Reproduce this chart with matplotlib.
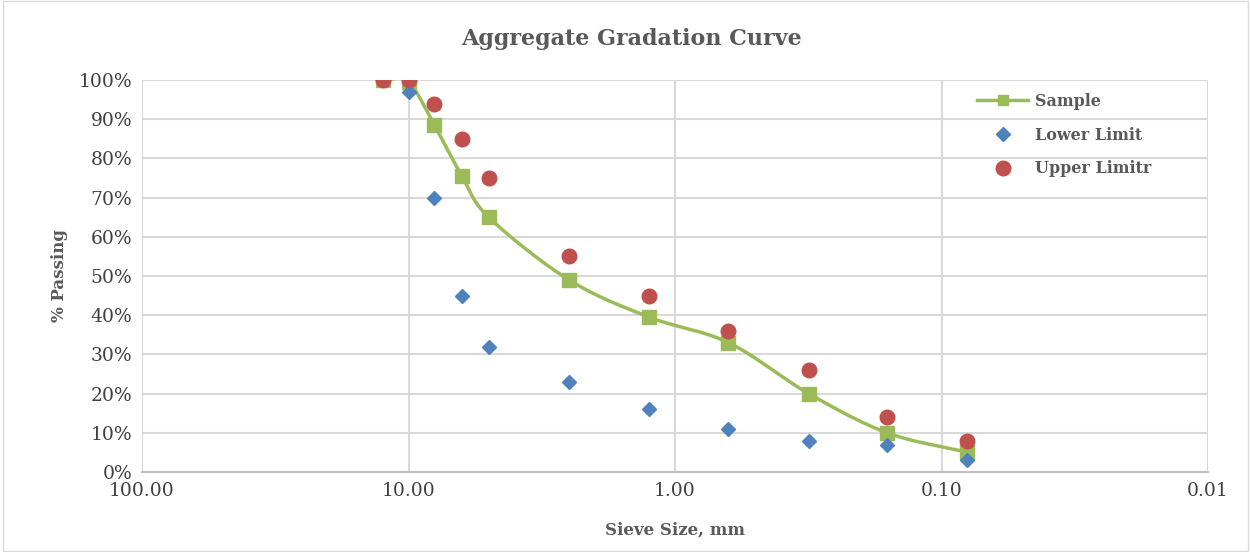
import numpy as np
import matplotlib
matplotlib.use("Agg")
import matplotlib.pyplot as plt
from matplotlib.ticker import FixedLocator, PercentFormatter

# sieve sizes (mm) and % passing
sieve = [12.5, 10, 8, 6.3, 5, 2.5, 1.25, 0.63, 0.315, 0.16, 0.08]
sample = [100, 99.5, 88.5, 75.5, 65, 49, 39.5, 33, 20, 10, 5]
lower = [100, 97, 70, 45, 32, 23, 16, 11, 8, 7, 3]
upper = [100, 100, 94, 85, 75, 55, 45, 36, 26, 14, 8]

GREEN = '#9bbb59'
BLUE = '#4f81bd'
RED = '#c0504d'
GREY = '#595959'


def smooth(xs, ys, n=30):
    # catmull-rom through the points, in log-x space (like excel's smoothed line)
    lx = np.log10(xs)
    ys = np.asarray(ys, float)
    px = np.concatenate([[2*lx[0]-lx[1]], lx, [2*lx[-1]-lx[-2]]])
    py = np.concatenate([[2*ys[0]-ys[1]], ys, [2*ys[-1]-ys[-2]]])
    outx, outy = [], []
    t = np.linspace(0, 1, n)
    for i in range(1, len(px)-2):
        for p, out in ((px, outx), (py, outy)):
            p0, p1, p2, p3 = p[i-1], p[i], p[i+1], p[i+2]
            out.extend(0.5*((2*p1) + (-p0+p2)*t + (2*p0-5*p1+4*p2-p3)*t**2
                            + (-p0+3*p1-3*p2+p3)*t**3))
    return 10**np.array(outx), np.array(outy)


plt.rcParams['font.family'] = ['DejaVu Serif']

fig = plt.figure(figsize=(12.5, 5.52), dpi=100)
ax = fig.add_axes([0.1136, 0.145, 0.8528, 0.71])

sx, sy = smooth(sieve, sample)
ax.plot(sx, sy, color=GREEN, lw=2.5, zorder=3)
ax.plot(sieve, sample, 's', color=GREEN, ms=10, zorder=3)
ax.plot([], [], '-s', color=GREEN, lw=2.5, ms=7, label='Sample')
ax.plot(sieve, lower, 'D', color=BLUE, ms=7, ls='none', zorder=4, label='Lower Limit')
ax.plot(sieve, upper, 'o', color=RED, ms=10.5, ls='none', zorder=5, label='Upper Limitr')

ax.set_xscale('log')
ax.set_xlim(100, 0.01)
ax.set_ylim(0, 100)
ax.xaxis.set_major_locator(FixedLocator([100, 10, 1, 0.1, 0.01]))
ax.xaxis.set_minor_locator(FixedLocator([]))
ax.set_xticklabels(['100.00', '10.00', '1.00', '0.10', '0.01'])
ax.set_yticks(np.arange(0, 101, 10))
ax.yaxis.set_major_formatter(PercentFormatter(decimals=0))
ax.grid(True, color='#d9d9d9', lw=1.5)
ax.set_axisbelow(True)
for s in ('top', 'right', 'left'):
    ax.spines[s].set_visible(False)
ax.spines['bottom'].set_color('#bfbfbf')
ax.spines['bottom'].set_linewidth(1.5)
ax.tick_params(length=0, labelsize=13.5, colors='#404040', pad=7)

fig.text(0.505, 0.93, 'Aggregate Gradation Curve', ha='center', va='center',
         fontsize=16, fontweight='bold', color=GREY)
ax.set_xlabel('Sieve Size, mm', fontsize=12, fontweight='bold', color=GREY, labelpad=16)
ax.set_ylabel('% Passing', fontsize=12, fontweight='bold', color=GREY, labelpad=8)

leg = ax.legend(loc='upper left', bbox_to_anchor=(0.77, 1.004), frameon=False,
                prop={'weight': 'bold', 'size': 11.5}, labelspacing=1.05,
                handlelength=3.2, handletextpad=0.4)
for t in leg.get_texts():
    t.set_color(GREY)

fig.patches.append(plt.Rectangle((0.002, 0.002), 0.996, 0.996, transform=fig.transFigure,
                                 fill=False, edgecolor='#d9d9d9', lw=1))

fig.savefig('out.png', dpi=100)
